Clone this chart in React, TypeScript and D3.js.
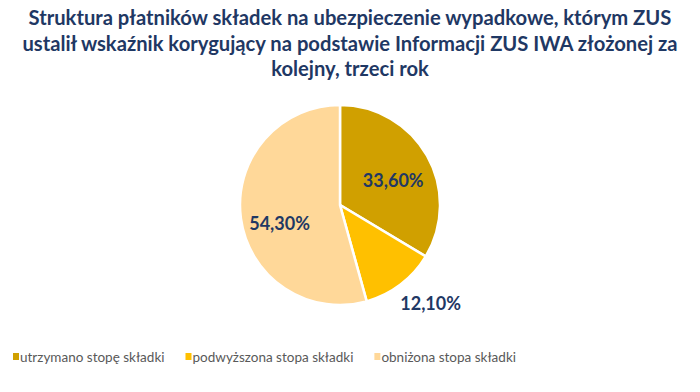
import * as d3 from 'd3'

const categories = ['utrzymano stopę składki', 'podwyższona stopa składki', 'obniżona stopa składki']
const values = [33.6, 12.1, 54.3]
const valueLabels = ['33,60%', '12,10%', '54,30%']
const colors = ['#d0a000', '#ffc000', '#ffd899']
const titleLines = [
  'Struktura płatników składek na ubezpieczenie wypadkowe, którym ZUS',
  'ustalił wskaźnik korygujący na podstawie Informacji ZUS IWA złożonej za',
  'kolejny, trzeci rok',
]

const W = 700
const H = 392
const NAVY = '#1f3864'
const FONT = 'Lato, "Open Sans", sans-serif'
const LEGEND_SIZE = 13.5
const LEGEND_FONT = `${LEGEND_SIZE}px Lato`

function textWidth(s: string, font: string) {
  const ctx = document.createElement('canvas').getContext('2d')
  if (!ctx) return s.length * 6
  ctx.font = font
  return ctx.measureText(s).width
}

export default function App() {
  const cx = 340
  const cy = 205
  const r = 100

  const pie = d3.pie<number>().sort(null).value((d) => d)
  const arcs = pie(values)
  const arc = d3.arc<d3.PieArcDatum<number>>().innerRadius(0).outerRadius(r)

  const inner = d3.arc<d3.PieArcDatum<number>>().innerRadius(r * 0.6).outerRadius(r * 0.6)
  const outer = d3.arc<d3.PieArcDatum<number>>().innerRadius(r * 1.15).outerRadius(r * 1.15)
  // small nudges to match the best-fit placement
  const nudge: [number, number][] = [[1, 5], [21, 6], [-1, 10]]

  // legend layout: swatch + text, items separated by a fixed gap
  const legendPos: number[] = []
  let lx = 13
  categories.forEach((c) => {
    legendPos.push(lx)
    lx += 7 + textWidth(c, LEGEND_FONT) + 21
  })

  return (
    <div style={{ margin: -8 }}>
      <svg width={W} height={H} style={{ display: 'block', background: '#fff' }}>
        {titleLines.map((t, i) => (
          <text
            key={i}
            x={W / 2}
            y={25 + i * 25.5}
            textAnchor="middle"
            fontFamily={FONT}
            fontWeight="bold"
            fontSize={20.2}
            fill={NAVY}
          >
            {t}
          </text>
        ))}
        <g transform={`translate(${cx},${cy})`}>
          {arcs.map((a, i) => (
            <path key={i} d={arc(a) ?? ''} fill={colors[i]} stroke="#fff" strokeWidth={2.5} />
          ))}
          {arcs.map((a, i) => {
            const [x, y] = i === 1 ? outer.centroid(a) : inner.centroid(a)
            return (
              <text
                key={i}
                x={x + nudge[i][0]}
                y={y + nudge[i][1]}
                textAnchor="middle"
                dominantBaseline="central"
                fontFamily={FONT}
                fontWeight="bold"
                fontSize={18}
                fill={NAVY}
              >
                {valueLabels[i]}
              </text>
            )
          })}
        </g>
        {categories.map((c, i) => (
          <g key={c} transform={`translate(${legendPos[i]},357)`}>
            <rect x={0} y={-4} width={6} height={7} fill={colors[i]} />
            <text x={7} y={0} dominantBaseline="central" fontFamily={FONT} fontSize={LEGEND_SIZE} fill="#595959">
              {c}
            </text>
          </g>
        ))}
      </svg>
    </div>
  )
}
